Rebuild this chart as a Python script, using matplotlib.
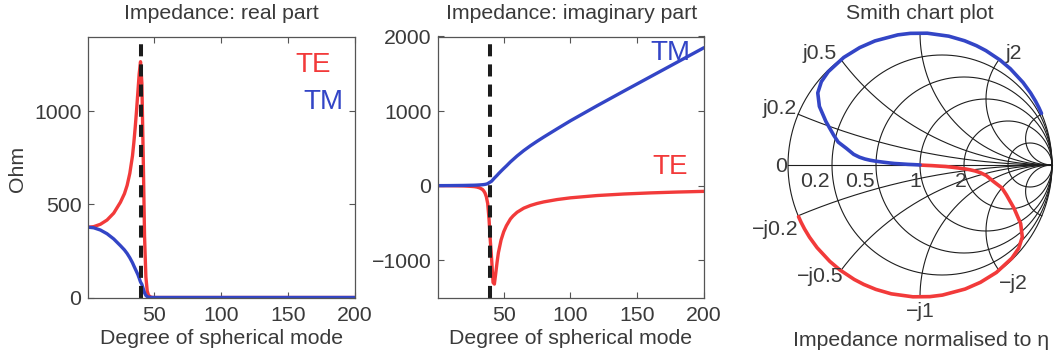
import numpy as np
import matplotlib
matplotlib.use('Agg')
import matplotlib.pyplot as plt

plt.rcParams['font.family'] = ['Liberation Sans', 'DejaVu Sans']

# ---------------- data ----------------
eta = 376.7          # free-space impedance used for normalisation
ka = 40              # dashed marker position (degree of spherical mode)

n = [1, 5, 10, 15, 20, 25, 28, 30, 32, 34, 35, 36, 37, 38, 39, 40, 41, 42, 43,
     44, 45, 46, 48, 50, 52, 55, 57, 60, 65, 70, 75, 80, 90, 100, 120, 140,
     160, 180, 200]

te_re = [377, 380.0, 392.6, 415.6, 452.6, 511.1, 557.1, 601.6, 665.9, 760,
         830, 910, 1000, 1100, 1200, 1265, 1150, 760, 330, 110, 35, 11, 1,
         0.1, 0.01, 0.0007, 0, 0, 0, 0, 0, 0, 0, 0, 0, 0, 0, 0, 0]
te_im = [-0.1, -0.4, -1.1, -2.4, -4.3, -9.2, -13.1, -19.4, -30.6, -50, -70,
         -100, -150, -240, -450, -750, -1000, -1300, -1320, -1180, -1030,
         -900, -730, -618, -538, -447, -406, -357, -302, -266, -239, -218,
         -186.5, -163.4, -132.6, -112.1, -97.2, -85.8, -76.8]

tm_re = [377, 374, 362, 342, 314, 278, 255, 236, 213, 186.2, 170.0, 154.3,
         139.0, 123.3, 103.8, 83.1, 70.4, 47.6, 25.3, 11.1, 4.7, 1.93, 0.27,
         0.04, 0.006, 0.0005, 0, 0, 0, 0, 0, 0, 0, 0, 0, 0, 0, 0, 0]
tm_im = [0.1, 0.4, 1, 2, 3, 5, 6, 7.6, 9.8, 12.3, 14.3, 17.0, 20.9, 26.9,
         38.9, 49.3, 61.2, 81.5, 101.3, 119.4, 137.8, 157.9, 194.7, 230, 264,
         318, 350, 398, 470, 535, 595, 652, 762, 870, 1072, 1268, 1462, 1656,
         1850]

real_yticks = [0, 500, 1000]
imag_yticks = [-1000, 0, 1000, 2000]
x_ticks = [50, 100, 150, 200]

smith_r = [0.2, 0.5, 1, 2, 5]
smith_x = [0.2, 0.5, 1, 2, 5]
smith_labels = [('j0.5', -0.758, 0.846), ('j0.2', -1.06, 0.43), ('0', -1.05, -0.013),
                ('0.2', -0.795, -0.126), ('0.5', -0.455, -0.126), ('1', -0.038, -0.126),
                ('2', 0.308, -0.126), ('j2', 0.707, 0.846), ('\u2212j0.2', -1.098, -0.492),
                ('\u2212j0.5', -0.758, -0.846), ('\u2212j1', 0.0, -1.111),
                ('\u2212j2', 0.707, -0.896)]

# ---------------- styling ----------------
W, H = 1057, 363
TXT = '#3a3a3a'
RED = '#f23a3a'
BLUE = '#3345c6'
DASH = '#1c1c1c'
FS = 15.3

fig = plt.figure(figsize=(W / 100, H / 100), dpi=100)


def px_axes(l, r, t, b):
    return [l / W, 1 - b / H, (r - l) / W, (b - t) / H]


def style(ax):
    ax.tick_params(axis='both', direction='in', length=4, width=0.8,
                   top=True, right=True, colors='#555555', labelcolor=TXT,
                   labelsize=FS)
    ax.tick_params(axis='x', pad=6)
    ax.tick_params(axis='y', pad=5)
    for s in ax.spines.values():
        s.set_color('#555555')
        s.set_linewidth(0.9)


# Panel 1: real part
ax1 = fig.add_axes(px_axes(88.3, 354.8, 36.5, 297.5))
ax1.plot(n, te_re, color=RED, lw=2.4, solid_capstyle='round')
ax1.plot(n, tm_re, color=BLUE, lw=2.4, solid_capstyle='round')
ax1.axvline(ka, color=DASH, lw=2.9, linestyle=(0, (3, 2)))
ax1.set_xlim(1, 200)
ax1.set_ylim(0, 1400)
ax1.set_xticks(x_ticks)
ax1.set_yticks(real_yticks)
style(ax1)

# Panel 2: imaginary part
ax2 = fig.add_axes(px_axes(438.3, 704.0, 36.5, 297.5))
ax2.plot(n, te_im, color=RED, lw=2.4, solid_capstyle='round')
ax2.plot(n, tm_im, color=BLUE, lw=2.4, solid_capstyle='round')
ax2.axvline(ka, color=DASH, lw=2.9, linestyle=(0, (3, 2)))
ax2.set_xlim(1, 200)
ax2.set_ylim(-1500, 2000)
ax2.set_xticks(x_ticks)
ax2.set_yticks(imag_yticks)
style(ax2)


def ftext(x, y, s, **kw):
    kw.setdefault('ha', 'center')
    kw.setdefault('va', 'center')
    kw.setdefault('color', TXT)
    kw.setdefault('fontsize', FS)
    fig.text(x / W, 1 - y / H, s, **kw)


ftext(221.5, 13.5, 'Impedance: real part')
ftext(571.5, 13.5, 'Impedance: imaginary part')
ftext(920, 13.5, 'Smith chart plot')
ftext(222, 338, 'Degree of spherical mode')
ftext(571, 338, 'Degree of spherical mode')
ftext(921, 340, 'Impedance normalised to \u03b7')
ftext(17, 169, 'Ohm', rotation=90)

ftext(313, 65, 'TE', color=RED, fontsize=20)
ftext(323, 102, 'TM', color=BLUE, fontsize=20)
ftext(670, 53, 'TM', color=BLUE, fontsize=20)
ftext(670, 167, 'TE', color=RED, fontsize=20)

# Panel 3: Smith chart
R = 132.0
cx, cy = 920.0, 165.0
gx0, gx1, gy0, gy1 = -1.30, 1.04, -1.45, 1.20
ax3 = fig.add_axes(px_axes(cx + gx0 * R, cx + gx1 * R, cy - gy1 * R, cy - gy0 * R))
ax3.set_xlim(gx0, gx1)
ax3.set_ylim(gy0, gy1)
ax3.axis('off')
ax3.patch.set_alpha(0)

GRID = '#1e1e1e'
t = np.linspace(0, 2 * np.pi, 721)
ax3.plot(np.cos(t), np.sin(t), color=GRID, lw=0.8)
ax3.plot([-1, 1], [0, 0], color=GRID, lw=0.8)
for r in smith_r:
    c, rad = r / (1 + r), 1 / (1 + r)
    ax3.plot(c + rad * np.cos(t), rad * np.sin(t), color=GRID, lw=0.8)
rr = np.concatenate([np.linspace(0, 2, 400), np.logspace(np.log10(2), 4, 400)])
for xv in smith_x:
    for s in (1, -1):
        z = rr + 1j * s * xv
        g = (z - 1) / (z + 1)
        ax3.plot(g.real, g.imag, color=GRID, lw=0.8)

for lab, lx, ly in smith_labels:
    ax3.text(lx, ly, lab, ha='center', va='center', fontsize=FS, color=TXT)

z_te = (np.array(te_re) + 1j * np.array(te_im)) / eta
z_tm = (np.array(tm_re) + 1j * np.array(tm_im)) / eta
g_te = (z_te - 1) / (z_te + 1)
g_tm = (z_tm - 1) / (z_tm + 1)
ax3.plot(g_te.real, g_te.imag, color=RED, lw=2.6, solid_capstyle='round')
ax3.plot(g_tm.real, g_tm.imag, color=BLUE, lw=2.6, solid_capstyle='round')

fig.savefig('out.png', dpi=100)
